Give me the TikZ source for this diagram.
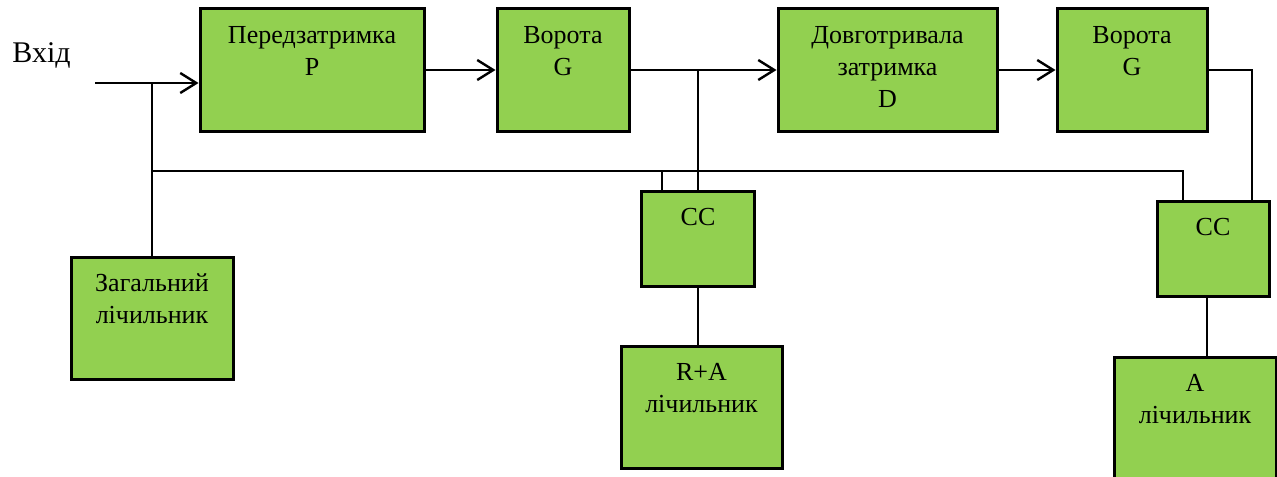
\documentclass[tikz,border=0pt]{standalone}
\usepackage{fontspec}
\setmainfont{Liberation Serif}
\usetikzlibrary{arrows.meta}
\definecolor{blkgreen}{HTML}{92D050}
\tikzset{
  blk/.style={draw, line width=1.5pt, fill=blkgreen, inner sep=0pt},
  txt/.style={anchor=base, align=center, inner sep=0pt, font=\fontsize{13}{16}\selectfont},
  wire/.style={line width=1.2pt},
  arr/.style={wire, -{Straight Barb[length=8pt,width=10pt]}}
}
\begin{document}
\begin{tikzpicture}[x=0.5pt,y=-0.5pt]
  \useasboundingbox (0,0) rectangle (1277,476);
  % blocks
  \node[blk, minimum width=112pt, minimum height=61pt] (pre) at (312,70) {};
  \node[blk, minimum width=66pt, minimum height=61pt] (g1) at (563,70) {};
  \node[blk, minimum width=109.5pt, minimum height=61pt] (dl) at (887.5,70) {};
  \node[blk, minimum width=75pt, minimum height=61pt] (g2) at (1132,70) {};
  \node[blk, minimum width=56.5pt, minimum height=47.5pt] (cc1) at (698,238.5) {};
  \node[blk, minimum width=56pt, minimum height=47.5pt] (cc2) at (1213,248.5) {};
  \node[blk, minimum width=81pt, minimum height=61pt] (tot) at (152,318) {};
  \node[blk, minimum width=80.5pt, minimum height=61pt] (ra) at (701.5,407) {};
  \node[blk, minimum width=81pt, minimum height=63pt] (a) at (1195,420) {};
  % texts (base = last line)
  \node[txt] (tpre) at ([yshift=-34pt]pre.north) {Передзатримка\\P};
  \node[txt] (tg1) at ([yshift=-34pt]g1.north) {Ворота\\G};
  \node[txt] (tdl) at ([yshift=-50pt]dl.north) {Довготривала\\затримка\\D};
  \node[txt] (tg2) at ([yshift=-34pt]g2.north) {Ворота\\G};
  \node[txt] (tcc1) at ([yshift=-18pt]cc1.north) {CC};
  \node[txt] (tcc2) at ([yshift=-18pt]cc2.north) {CC};
  \node[txt] (ttot) at ([yshift=-34pt]tot.north) {Загальний\\лічильник};
  \node[txt] (tra) at ([yshift=-34pt]ra.north) {R+A\\лічильник};
  \node[txt] (ta) at ([yshift=-34pt]a.north) {A\\лічильник};
  \node[anchor=base west, inner sep=0pt, font=\fontsize{15}{18}\selectfont] (lin) at (12,63) {Вхід};
  % wires
  \coordinate (in) at (95,83);
  \coordinate (tap) at (152,83);
  \coordinate (bus) at (152,171);
  \draw[arr] (in) -- (in -| pre.west);
  \draw[wire] (tap) -- (tot.north);
  \draw[wire] (bus) -| ([xshift=-15pt]cc2.north);
  \draw[wire] ([xshift=-18pt]cc1.north) -- ([xshift=-18pt]cc1.north |- bus);
  \draw[arr] (pre) -- (g1);
  \draw[arr] (g1) -- (dl);
  \draw[wire] (cc1.north) -- (cc1.north |- g1.east);
  \draw[arr] (dl) -- (g2);
  \draw[wire] (g2.east) -| ([xshift=19.5pt]cc2.north);
  \draw[wire] (cc1.south) -- (cc1.south |- ra.north);
  \draw[wire] ([xshift=-3pt]cc2.south) -- ([xshift=-3pt]cc2.south |- a.north);
\end{tikzpicture}
\end{document}
